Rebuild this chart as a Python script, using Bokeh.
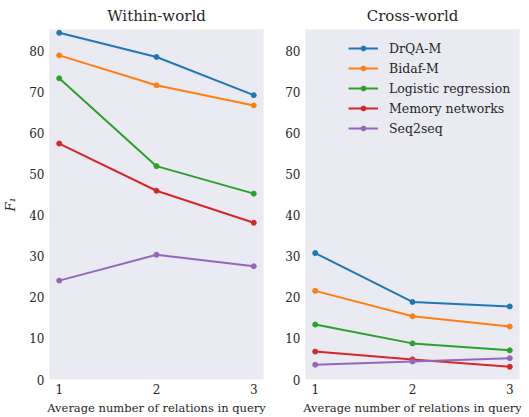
from bokeh.plotting import figure
from bokeh.layouts import row
from bokeh.models import Range1d, FixedTicker, Legend, LegendItem
from bokeh.embed import file_html
from bokeh.resources import INLINE

x = [1, 2, 3]
models = ["DrQA-M", "Bidaf-M", "Logistic regression", "Memory networks", "Seq2seq"]
colors = ["#1f77b4", "#ff7f0e", "#2ca02c", "#d62728", "#9467bd"]

within_drqa = [84.5, 78.6, 69.3]
within_bidaf = [79.0, 71.7, 66.8]
within_logreg = [73.4, 52.0, 45.3]
within_memnet = [57.5, 46.0, 38.2]
within_seq2seq = [24.1, 30.4, 27.6]

cross_drqa = [30.8, 18.9, 17.8]
cross_bidaf = [21.6, 15.4, 12.9]
cross_logreg = [13.4, 8.8, 7.1]
cross_memnet = [6.8, 4.9, 3.1]
cross_seq2seq = [3.6, 4.4, 5.2]

within = [within_drqa, within_bidaf, within_logreg, within_memnet, within_seq2seq]
cross = [cross_drqa, cross_bidaf, cross_logreg, cross_memnet, cross_seq2seq]

FONT = "DejaVu Serif"
TXT = "#262626"
BG = "#EAEAF2"


def make(title, data, bl, br, ylabel=None, legend=False):
    p = figure(frame_width=214, frame_height=350, output_backend="svg", toolbar_location=None,
               x_range=Range1d(0.9, 3.1), y_range=Range1d(0, 85.3),
               min_border_left=bl, min_border_right=br, min_border_top=22,
               min_border_bottom=37, title=title)
    p.background_fill_color = BG
    p.border_fill_color = "white"
    p.outline_line_color = None
    p.grid.visible = False
    p.title.text_font = FONT
    p.title.text_font_size = "15px"
    p.title.text_font_style = "normal"
    p.title.text_color = TXT
    p.title.align = "center"
    p.title.standoff = 9
    for ax in (p.xaxis, p.yaxis):
        ax.axis_line_color = None
        ax.major_tick_line_color = None
        ax.minor_tick_line_color = None
        ax.major_tick_out = 0
        ax.major_tick_in = 0
        ax.minor_tick_out = 0
        ax.major_label_text_font = FONT
        ax.major_label_text_font_size = "12px"
        ax.major_label_text_color = TXT
        ax.axis_label_text_font = FONT
        ax.axis_label_text_font_size = "11.5px"
        ax.axis_label_text_font_style = "normal"
        ax.axis_label_text_color = TXT
    p.xaxis.ticker = FixedTicker(ticks=x)
    p.yaxis.ticker = FixedTicker(ticks=[0, 10, 20, 30, 40, 50, 60, 70, 80])
    p.xaxis.axis_label = "Average number of relations in query"
    p.xaxis.major_label_standoff = 4
    p.xaxis.axis_label_standoff = 4
    p.yaxis.major_label_standoff = 5
    if ylabel:
        p.yaxis.axis_label = ylabel
        p.yaxis.axis_label_text_font_style = "italic"
        p.yaxis.axis_label_text_font_size = "13px"
        p.yaxis.axis_label_standoff = 8
    items = []
    for name, c, ys in zip(models, colors, data):
        r1 = p.line(x, ys, line_color=c, line_width=2)
        r2 = p.scatter(x, ys, size=5, fill_color=c, line_color=c)
        items.append(LegendItem(label=name, renderers=[r1, r2]))
    if legend:
        lg = Legend(items=items, location=(43, 241), background_fill_alpha=0,
                    border_line_color=None, label_text_font=FONT,
                    label_text_font_size="12.5px", label_text_color=TXT,
                    glyph_width=30, spacing=0, label_height=20, glyph_height=12,
                    margin=0, padding=6, label_standoff=11)
        p.add_layout(lg)
    return p


left = make("Within-world", within, 41, 7, ylabel="F\u2081")
right = make("Cross-world", cross, 35, 2, legend=True)
layout = row(left, right, spacing=0)

open("out.html", "w").write(file_html(layout, INLINE))
